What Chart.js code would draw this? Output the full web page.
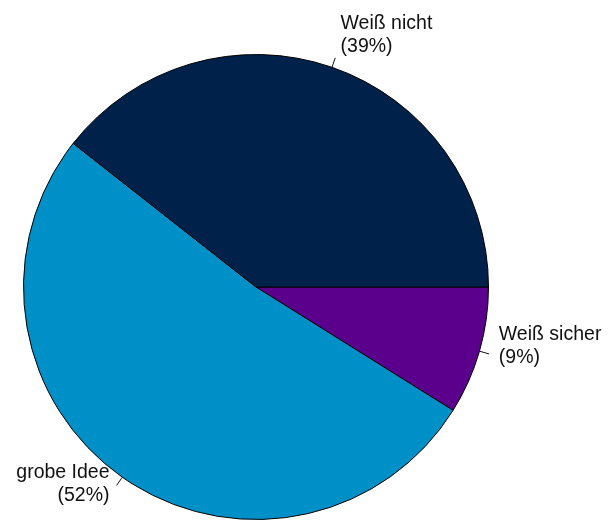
<!DOCTYPE html>
<html>
<head>
<meta charset="utf-8">
<script src="https://cdn.jsdelivr.net/npm/chart.js@4"></script>
<style>
  html, body { margin: 0; padding: 0; background: #fff; }
  #wrap { width: 611px; height: 520px; }
</style>
</head>
<body>
<div id="wrap"><canvas id="pieChart" width="611" height="520"></canvas></div>
<script>
const categories = ["Weiß sicher", "grobe Idee", "Weiß nicht"];
const shares = [8.9, 51.7, 39.4];
const sliceColors = ["#5a008c", "#0090c8", "#00224a"];

// leader lines + two-line labels outside the pie
const outsideLabels = {
    id: "outsideLabels",
    afterDatasetsDraw(chart) {
        const ctx = chart.ctx;
        const meta = chart.getDatasetMeta(0);
        const total = shares.reduce((a, b) => a + b, 0);
        ctx.save();
        ctx.font = "19.5px 'Liberation Sans', Arial, sans-serif";
        ctx.fillStyle = "#111";
        ctx.strokeStyle = "#111";
        ctx.lineWidth = 1;
        ctx.textBaseline = "alphabetic";
        meta.data.forEach((arc, i) => {
            const p = arc.getProps(["x", "y", "startAngle", "endAngle", "outerRadius"], true);
            const a = (p.startAngle + p.endAngle) / 2;
            const cos = Math.cos(a), sin = Math.sin(a);
            const x0 = p.x + cos * p.outerRadius, y0 = p.y + sin * p.outerRadius;
            const x1 = p.x + cos * (p.outerRadius + 10), y1 = p.y + sin * (p.outerRadius + 10);
            ctx.beginPath();
            ctx.moveTo(x0, y0);
            ctx.lineTo(x1, y1);
            ctx.stroke();
            const gap = 3 + 7 * Math.abs(cos);
            const tx = cos >= 0 ? x1 + gap : x1 - gap;
            ctx.textAlign = cos >= 0 ? "left" : "right";
            const base = y1 - 17.5 + 12 * sin;
            const pct = Math.round(shares[i] / total * 100);
            ctx.fillText(categories[i], tx, base);
            ctx.fillText("(" + pct + "%)", tx, base + 23);
        });
        ctx.restore();
    }
};

new Chart(document.getElementById("pieChart"), {
    type: "pie",
    data: {
        labels: categories,
        datasets: [
            {
                data: shares,
                backgroundColor: sliceColors,
                borderColor: "#000",
                borderWidth: 1,
                hoverOffset: 0,
                offset: 0,
            },
        ],
    },
    options: {
        responsive: false,
        animation: false,
        events: [],
        rotation: 90,
        layout: {
            padding: { left: 23, right: 122, top: 54, bottom: 0 },
        },
        plugins: {
            legend: { display: false },
            tooltip: { enabled: false },
        },
    },
    plugins: [outsideLabels],
});
</script>
</body>
</html>
